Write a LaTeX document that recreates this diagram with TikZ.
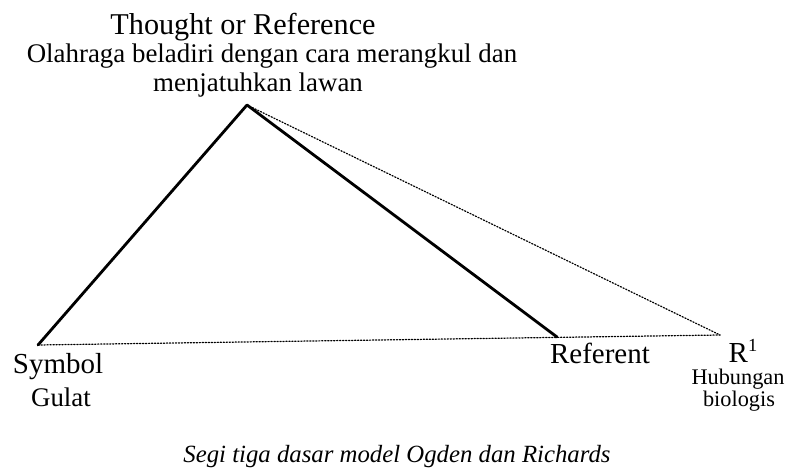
\documentclass[tikz,border=0pt]{standalone}
\usepackage{fontspec}
\setmainfont{Liberation Serif}
\usetikzlibrary{calc,positioning}

\begin{document}
\begin{tikzpicture}[x=0.02cm,y=-0.02cm,line join=round,line cap=round,
  lbl/.style={anchor=base,inner sep=0pt,font=\fontsize{16.5}{18}\selectfont},
  sub/.style={anchor=base,inner sep=0pt,font=\fontsize{15.3}{17}\selectfont},
  subs/.style={anchor=base,inner sep=0pt,font=\fontsize{12.7}{14}\selectfont},
  side/.style={line width=1.6pt},
  link/.style={densely dotted,line width=0.7pt}]
  \useasboundingbox (0,0) rectangle (808,476);
  % corners of the triangle
  \coordinate (T) at (247,105);
  \coordinate (S) at (38,345);
  \coordinate (F) at (557,337);
  \coordinate (R) at (720,335);
  \draw[side] (S)--(T)--(F);
  \draw[link] (T)--(R);
  \draw[link] (S)--(R);
  % labels
  \node[lbl,font=\fontsize{17.2}{19}\selectfont] (thought) at (243,35) {Thought or Reference};
  \node[sub] (olah) at (272,63) {Olahraga beladiri dengan cara merangkul dan};
  \node[sub] (jatuh) at (258,92) {menjatuhkan lawan};
  \node[lbl] (symbol) at (58,373) {Symbol};
  \node[sub] (gulat) at (61,406) {Gulat};
  \node[lbl] (referent) at (600,363) {Referent};
  \node[lbl] (rone) at (743,362) {R\raisebox{0.8ex}{\fontsize{10.5}{10}\selectfont 1}};
  \node[subs] (hub) at (738,384) {Hubungan};
  \node[subs] (bio) at (739,406) {biologis};
  \node[anchor=base,inner sep=0pt,font=\fontsize{14.1}{16}\selectfont\itshape] (caption) at (397,462) {Segi tiga dasar model Ogden dan Richards};
\end{tikzpicture}
\end{document}
